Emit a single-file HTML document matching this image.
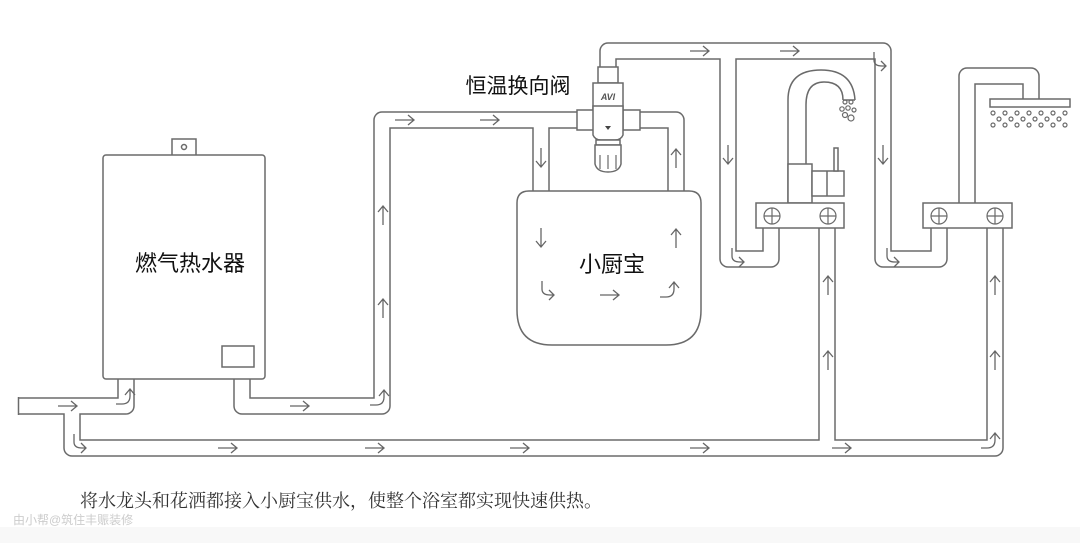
<!DOCTYPE html>
<html><head><meta charset="utf-8"><style>
html,body{margin:0;padding:0;background:#fff;}
svg{display:block;}
</style></head><body>
<svg width="1080" height="543" viewBox="0 0 1080 543" xmlns="http://www.w3.org/2000/svg">
<defs>
<path id="ar" d="M-10 0 H9 M3 -5 L9 0 L3 5" fill="none" stroke="#666" stroke-width="1.3"/>
<path id="au" d="M0 10 V-9 M-5 -3 L0 -9 L5 -3" fill="none" stroke="#666" stroke-width="1.3"/>
<path id="ad" d="M0 -10 V9 M-5 3 L0 9 L5 3" fill="none" stroke="#666" stroke-width="1.3"/>
<path id="adr" d="M-6 -10 V-2 Q-6 4 2 4 H6 M1 -1 L6 4 L1 9" fill="none" stroke="#666" stroke-width="1.3"/>
<path id="aru" d="M-10 6 H-4 Q4 6 4 -2 V-8 M-1 -3 L4 -9 L9 -3" fill="none" stroke="#666" stroke-width="1.3"/>
</defs>
<rect width="1080" height="543" fill="#fff"/>
<rect x="0" y="527" width="1080" height="16" fill="#f8f8f8"/>
<g fill="none" stroke-linejoin="round">
<g stroke="#6a6a6a" stroke-width="17.5">
<path d="M18 406 H126 V379"/>
<path d="M72 406 V448 H995 V228"/>
<path d="M827 448 V228"/>
<path d="M242 379 V406 H382 V120 H676 V192"/>
<path d="M541 120 V192"/>
<path d="M608 70 V51 H883 V259 H939 V228"/>
<path d="M728 51 V259 H771 V228"/>
<path d="M967 203 V76 H1031 V101"/>
</g>
<g stroke="#fff" stroke-width="14.5">
<path d="M17 406 H126 V375"/>
<path d="M72 406 V448 H995 V225"/>
<path d="M827 448 V225"/>
<path d="M242 375 V406 H382 V120 H676 V196"/>
<path d="M541 120 V196"/>
<path d="M608 72 V51 H883 V259 H939 V225"/>
<path d="M728 51 V259 H771 V225"/>
<path d="M967 205 V76 H1031 V103"/>
</g>
</g>
<line x1="18.5" y1="397" x2="18.5" y2="415" stroke="#6a6a6a" stroke-width="1.5"/>
<g stroke="#6a6a6a" stroke-width="1.5" fill="#fff">
<rect x="172" y="139" width="24" height="17"/>
<circle cx="184" cy="147" r="2.5"/>
<rect x="103" y="155" width="162" height="224" rx="3"/>
<rect x="222" y="346" width="32" height="21"/>
<path d="M517 203 Q517 191 529 191 H689 Q701 191 701 203 V310 Q701 345 666 345 H552 Q517 345 517 310 Z"/>
<rect x="598" y="67" width="20" height="16"/>
<path d="M593 83 H623 V110 H593 Z"/>
<rect x="577" y="110" width="17" height="20"/>
<rect x="623" y="110" width="17" height="20"/>
<path d="M593 106 H623 V135 Q621 140 615 140 H601 Q595 140 593 135 Z"/>
<rect x="596" y="140" width="24" height="5"/>
<path d="M595 145 H621 V164 Q619 172 608 172 Q597 172 595 164 Z"/>
<path d="M788 203 V100 Q788 70 821 70 Q853 70 855 100 M806 164 V105 Q806 82 824 82 Q843 82 843 100 M843 100 H855"/>
<rect x="788" y="164" width="24" height="39"/>
<rect x="812" y="171" width="32" height="25"/>
<line x1="827" y1="171" x2="827" y2="196"/>
<rect x="834" y="148" width="4" height="23"/>
<rect x="756" y="203" width="88" height="25"/>
<rect x="923" y="203" width="89" height="25"/>
<rect x="990" y="99" width="80" height="8"/>
</g>
<g stroke="#6a6a6a" stroke-width="1.2" fill="none">
<circle cx="772" cy="216" r="8"/><path d="M764 216h16M772 208v16"/>
<circle cx="828" cy="216" r="8"/><path d="M820 216h16M828 208v16"/>
<circle cx="939" cy="216" r="8"/><path d="M931 216h16M939 208v16"/>
<circle cx="995" cy="216" r="8"/><path d="M987 216h16M995 208v16"/>
<circle cx="845" cy="102" r="2"/><circle cx="851" cy="102" r="2"/><circle cx="842" cy="109" r="2.2"/><circle cx="848" cy="108" r="2.2"/><circle cx="854" cy="110" r="2"/><circle cx="845" cy="115" r="2.5"/><circle cx="851" cy="118" r="3"/>
<circle cx="993" cy="113" r="2"/><circle cx="1005" cy="113" r="2"/><circle cx="1017" cy="113" r="2"/><circle cx="1029" cy="113" r="2"/><circle cx="1041" cy="113" r="2"/><circle cx="1053" cy="113" r="2"/><circle cx="1065" cy="113" r="2"/>
<circle cx="999" cy="119" r="2"/><circle cx="1011" cy="119" r="2"/><circle cx="1023" cy="119" r="2"/><circle cx="1035" cy="119" r="2"/><circle cx="1047" cy="119" r="2"/><circle cx="1059" cy="119" r="2"/>
<circle cx="993" cy="125" r="2"/><circle cx="1005" cy="125" r="2"/><circle cx="1017" cy="125" r="2"/><circle cx="1029" cy="125" r="2"/><circle cx="1041" cy="125" r="2"/><circle cx="1053" cy="125" r="2"/><circle cx="1065" cy="125" r="2"/>
<path d="M600 155v14M608 155v14M616 155v14"/>
</g>
<text x="608" y="100" font-family="Liberation Sans" font-size="9" font-style="italic" font-weight="bold" fill="#555" text-anchor="middle">AVI</text>
<path d="M605 126 h6 l-3 4z" fill="#444"/>
<use href="#ar" x="68" y="406"/>
<use href="#aru" x="126" y="398"/>
<use href="#adr" x="80" y="444"/>
<use href="#ar" x="228" y="448"/>
<use href="#ar" x="375" y="448"/>
<use href="#ar" x="520" y="448"/>
<use href="#ar" x="700" y="448"/>
<use href="#ar" x="842" y="448"/>
<use href="#ar" x="300" y="406"/>
<use href="#aru" x="380" y="399"/>
<use href="#au" x="383" y="308"/>
<use href="#au" x="383" y="215"/>
<use href="#ar" x="405" y="120"/>
<use href="#ar" x="490" y="120"/>
<use href="#ad" x="541" y="158"/>
<use href="#au" x="676" y="158"/>
<use href="#ad" x="541" y="238"/>
<use href="#au" x="676" y="238"/>
<use href="#adr" x="548" y="291"/>
<use href="#ar" x="610" y="295"/>
<use href="#aru" x="670" y="291"/>
<use href="#ar" x="700" y="51"/>
<use href="#ar" x="790" y="51"/>
<use href="#adr" x="880" y="62"/>
<use href="#ad" x="728" y="155"/>
<use href="#ad" x="883" y="155"/>
<use href="#adr" x="738" y="258"/>
<use href="#adr" x="893" y="258"/>
<use href="#au" x="828" y="285"/>
<use href="#au" x="828" y="360"/>
<use href="#au" x="995" y="285"/>
<use href="#au" x="995" y="360"/>
<use href="#aru" x="991" y="442"/>
<g font-family="Liberation Sans, 'Noto Sans CJK SC', sans-serif" fill="#111">
<text x="190" y="271" font-size="22" text-anchor="middle">燃气热水器</text>
<text x="518" y="93" font-size="21" text-anchor="middle">恒温换向阀</text>
<text x="612" y="272" font-size="22" text-anchor="middle">小厨宝</text>
</g>
<text x="80" y="507" font-family="'Liberation Serif', 'Noto Serif CJK SC', serif" font-size="18" fill="#333">将水龙头和花洒都接入小厨宝供水，使整个浴室都实现快速供热。</text>
<text x="13" y="524" font-family="Liberation Sans, 'Noto Sans CJK SC', sans-serif" font-size="12" fill="#ccc">由小帮@筑住丰赈装修</text>
</svg>
</body></html>
